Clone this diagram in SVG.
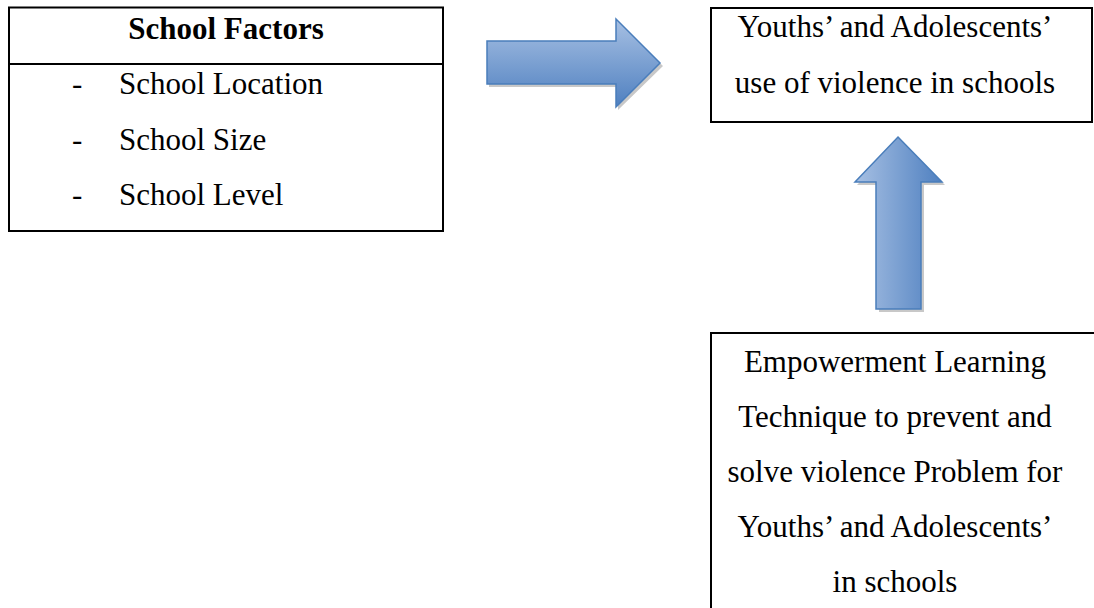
<svg xmlns="http://www.w3.org/2000/svg" width="1094" height="608" viewBox="0 0 1094 608">
  <defs>
    <linearGradient id="gV" x1="0" y1="0" x2="0" y2="1">
      <stop offset="0" stop-color="#A7C0E3"/>
      <stop offset="1" stop-color="#4F80C0"/>
    </linearGradient>
    <linearGradient id="gH" x1="0" y1="0" x2="1" y2="0">
      <stop offset="0" stop-color="#A7C0E3"/>
      <stop offset="1" stop-color="#4F80C0"/>
    </linearGradient>
    <style>
      .box { fill: #ffffff; stroke: #000000; stroke-width: 2; }
      .t { font-family: "Liberation Serif", "Times New Roman", serif; font-size: 31px; fill: #000000; }
      .c { text-anchor: middle; }
      .b { font-weight: bold; }
      .arrow { stroke: #4A7EBB; stroke-width: 1.5; stroke-linejoin: miter; }
      .shadow { fill: #C8C8C8; stroke: none; }
    </style>
  </defs>

  <g id="school-factors">
    <rect class="box" x="9" y="7.5" width="434" height="223.5"/>
    <line x1="9" y1="64" x2="443" y2="64" stroke="#000" stroke-width="2"/>
    <text class="t c b" x="226" y="39">School Factors</text>
    <text class="t" x="72" y="94">-</text>
    <text class="t" x="119" y="94">School Location</text>
    <text class="t" x="72" y="150">-</text>
    <text class="t" x="119" y="150">School Size</text>
    <text class="t" x="72" y="205">-</text>
    <text class="t" x="119" y="205">School Level</text>
  </g>

  <g id="violence-use">
    <rect class="box" x="711" y="8" width="381" height="114"/>
    <text class="t c" x="895" y="37">Youths’ and Adolescents’</text>
    <text class="t c" x="895" y="93">use of violence in schools</text>
  </g>

  <g id="empowerment">
    <rect class="box" x="711" y="333" width="395" height="290"/>
    <text class="t c" x="895" y="372">Empowerment Learning</text>
    <text class="t c" x="895" y="427">Technique to prevent and</text>
    <text class="t c" x="895" y="482">solve violence Problem for</text>
    <text class="t c" x="895" y="537">Youths’ and Adolescents’</text>
    <text class="t c" x="895" y="592">in schools</text>
  </g>

  <g id="connectors">
    <g id="arrow-right">
      <polygon class="shadow" points="489,44 618,44 618,22 663,66 618,110 618,87 489,87"/>
      <polygon class="arrow" fill="url(#gV)" points="487,41 616,41 616,19 660,63 616,107 616,84 487,84"/>
    </g>
    <g id="arrow-up">
      <polygon class="shadow" points="900,140 945,185 924,185 924,312 879,312 879,185 857,185"/>
      <polygon class="arrow" fill="url(#gH)" points="898,137 942,182 921,182 921,309 876,309 876,182 855,182"/>
    </g>
  </g>
</svg>
